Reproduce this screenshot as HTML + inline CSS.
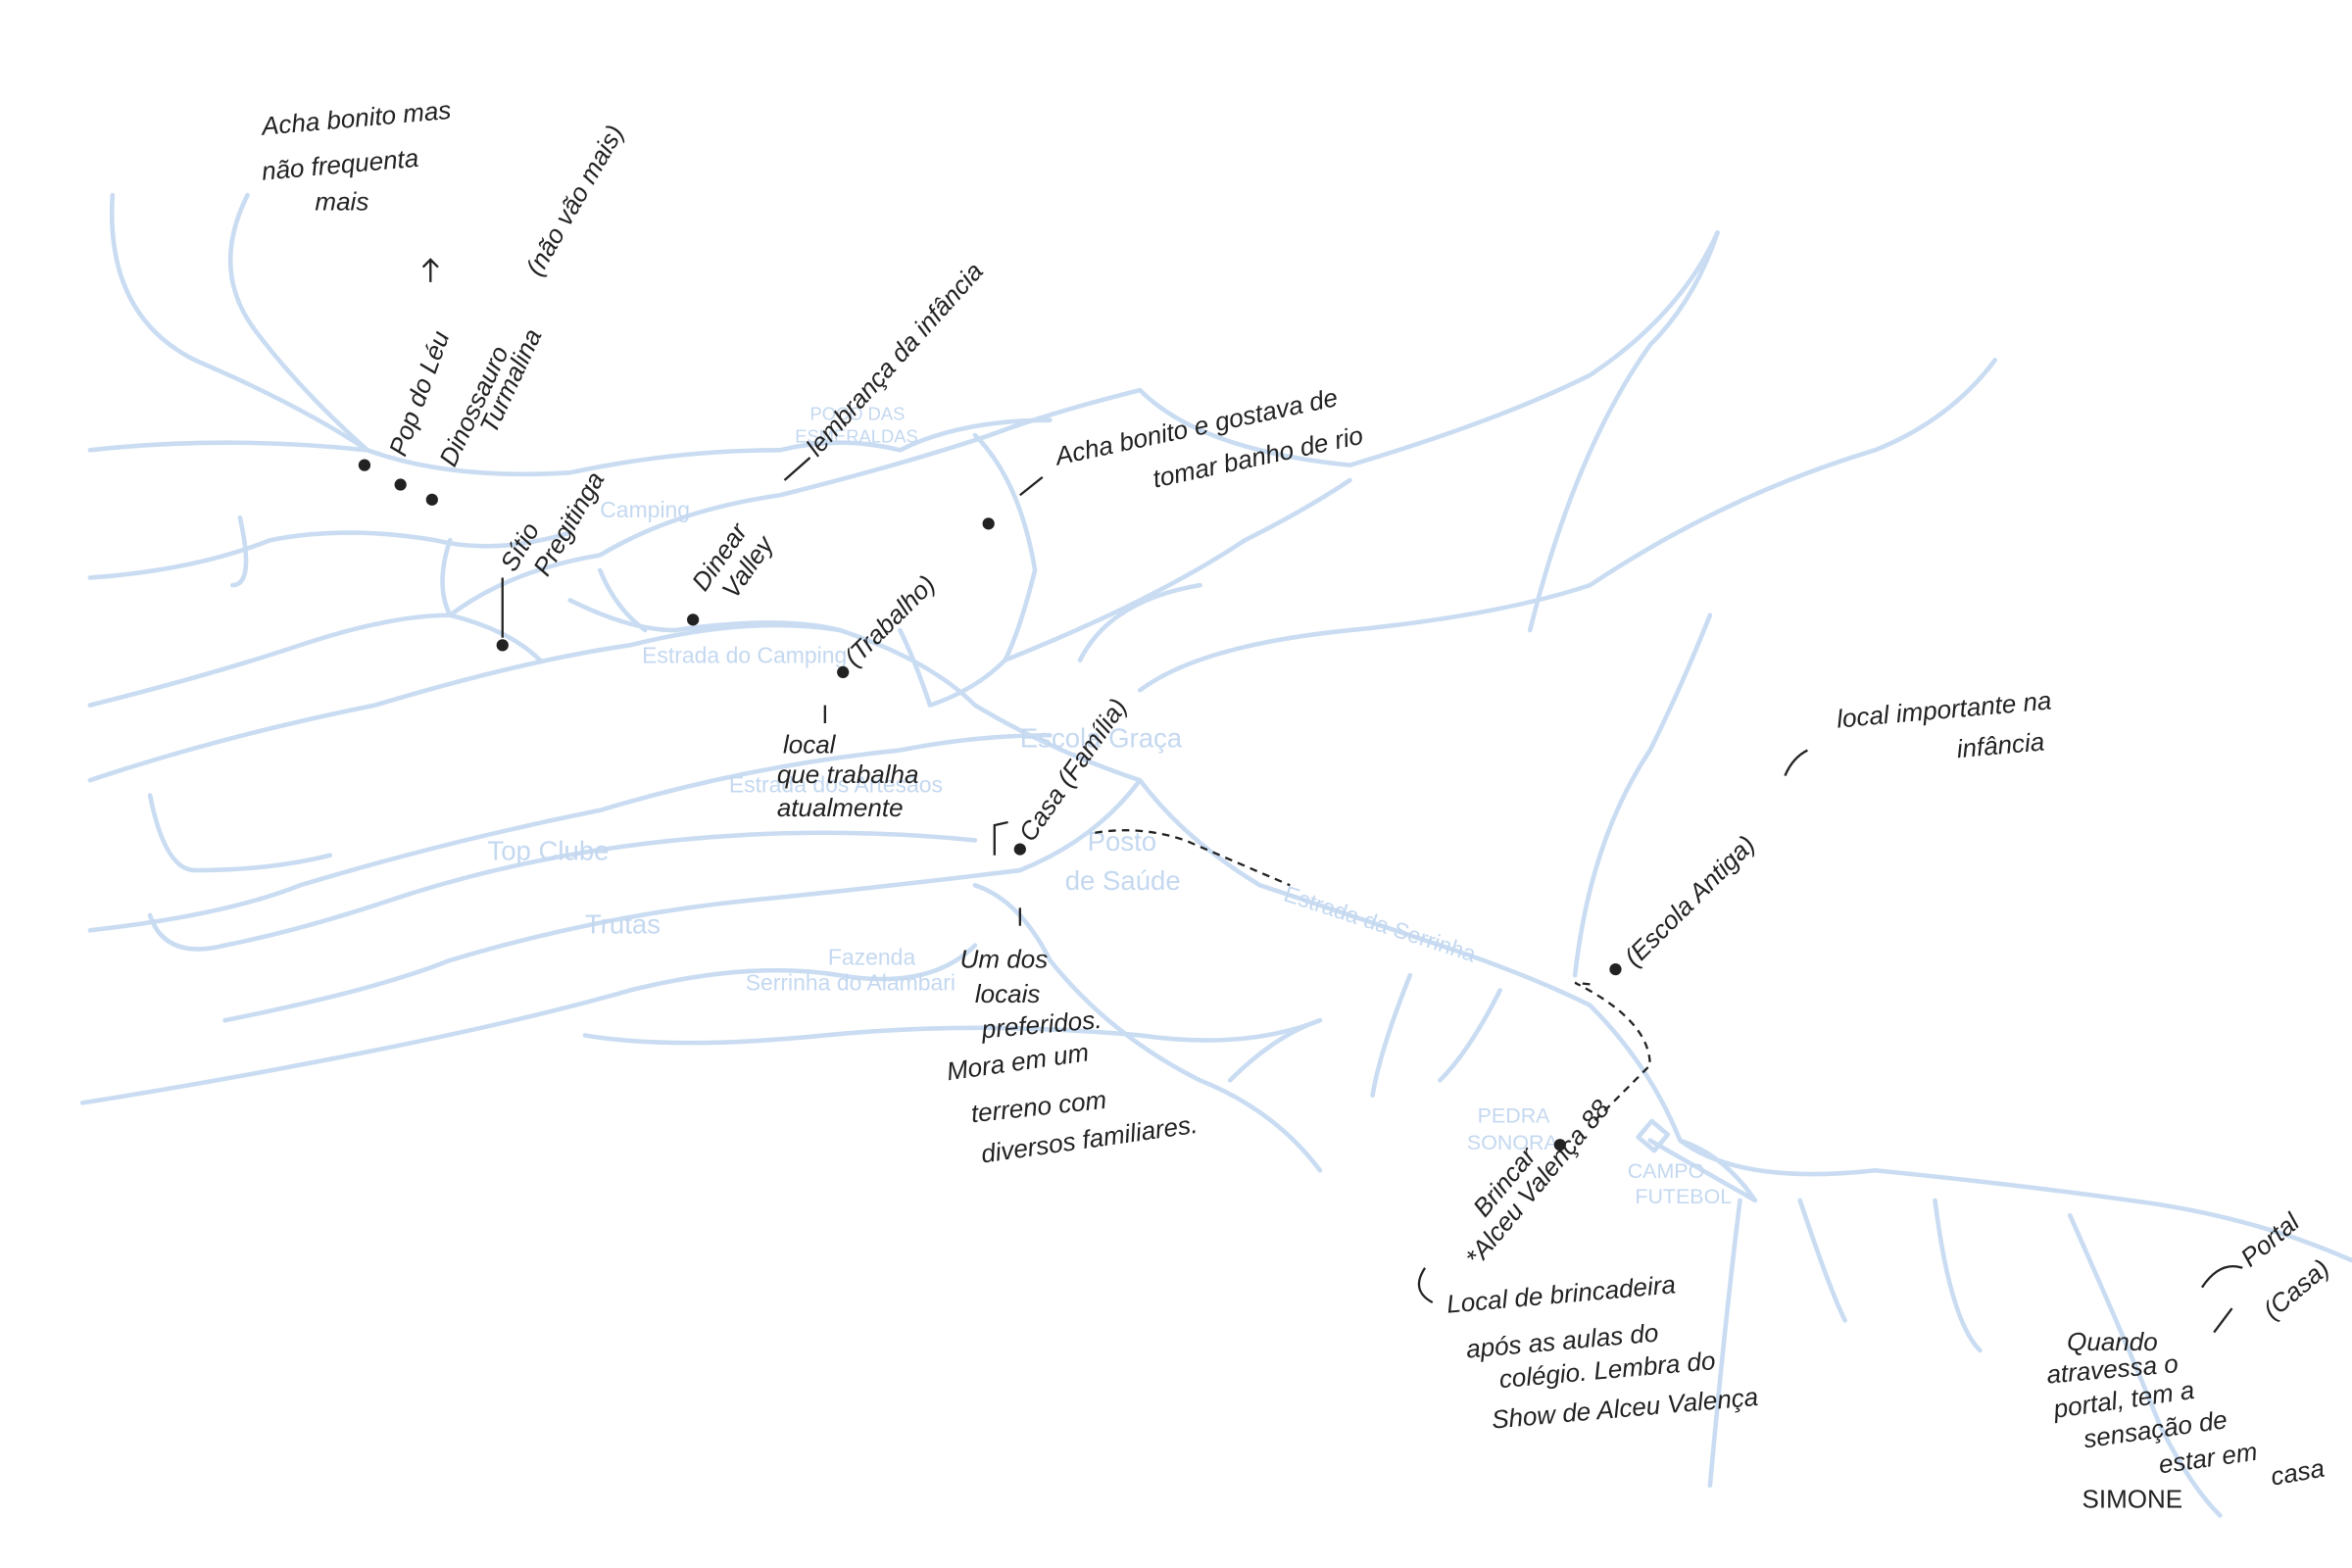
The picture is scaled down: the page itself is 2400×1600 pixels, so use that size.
<!DOCTYPE html>
<html><head><meta charset="utf-8"><style>
html,body{margin:0;padding:0;background:#fff;}
svg{display:block}
.r{fill:none;stroke:#c9dcf2;stroke-width:3;stroke-linecap:round;stroke-linejoin:round}
.h{font-family:"Liberation Sans",sans-serif;font-style:italic;fill:#222;font-size:17px}
.b{font-family:"Liberation Sans",sans-serif;fill:#c4d8f0;font-size:15px}
.k{fill:none;stroke:#222;stroke-width:1.5}
</style></head><body>
<svg width="2400" height="1600" viewBox="0 0 1568 1045" preserveAspectRatio="none">
<g class="r">
<path d="M75,130 Q70,210 130,240 Q200,270 245,300"/>
<path d="M165,130 Q140,180 170,220 Q200,260 245,300"/>
<path d="M60,300 Q150,290 245,300 Q300,320 380,315 Q450,300 520,300 Q560,290 600,300 Q640,280 700,280"/>
<path d="M60,385 Q130,380 180,360 Q230,350 290,360 Q330,370 380,355"/>
<path d="M160,345 Q170,390 155,390"/>
<path d="M60,470 Q140,450 200,430 Q260,410 300,410 Q340,380 400,370 Q450,340 520,330 Q600,310 660,290 Q700,275 760,260 Q800,300 900,310 Q1000,280 1060,250 Q1120,210 1145,155"/>
<path d="M60,520 Q150,490 250,470 Q350,440 420,430 Q500,410 560,420 Q620,440 650,470 Q700,500 760,520"/>
<path d="M380,400 Q420,420 450,420 Q520,410 560,420"/>
<path d="M300,360 Q290,390 300,410 Q340,420 360,440"/>
<path d="M400,380 Q410,405 430,420"/>
<path d="M60,620 Q150,610 200,590 Q300,560 400,540 Q500,510 600,500 Q650,490 700,490"/>
<path d="M100,530 Q110,580 130,580 Q180,580 220,570"/>
<path d="M100,610 Q110,640 150,630 Q200,620 260,600 Q350,570 450,560 Q550,550 650,560"/>
<path d="M150,680 Q250,660 300,640 Q400,610 500,600 Q600,590 680,580"/>
<path d="M55,735 Q150,720 250,700 Q350,680 420,660 Q500,640 560,650 Q620,660 650,630"/>
<path d="M390,690 Q450,700 550,690 Q650,680 760,690 Q830,700 880,680"/>
<path d="M650,590 Q680,600 700,640 Q740,690 800,720 Q850,740 880,780"/>
<path d="M680,580 Q730,560 760,520 Q790,560 840,590 Q900,610 960,630 Q1020,650 1060,670 Q1100,710 1120,760 Q1160,790 1250,780 Q1350,790 1420,800 Q1500,810 1568,840"/>
<path d="M650,290 Q680,320 690,380 Q680,420 670,440 Q650,460 620,470 Q610,440 600,420"/>
<path d="M670,440 Q720,420 760,400 Q800,380 830,360 Q870,340 900,320"/>
<path d="M760,460 Q800,430 900,420 Q1000,410 1060,390 Q1150,330 1250,300 Q1300,280 1330,240"/>
<path d="M1020,420 Q1050,300 1100,230 Q1130,200 1145,155"/>
<path d="M720,440 Q740,400 800,390"/>
<path d="M1050,650 Q1060,560 1100,500 Q1120,460 1140,410"/>
<path d="M940,650 Q920,700 915,730"/>
<path d="M820,720 Q850,690 880,680"/>
<path d="M1000,660 Q980,700 960,720"/>
<path d="M1160,800 Q1150,880 1140,990"/>
<path d="M1200,800 Q1220,860 1230,880"/>
<path d="M1290,800 Q1300,880 1320,900"/>
<path d="M1380,810 Q1420,900 1440,950 Q1460,990 1480,1010"/>
<path d="M1100,760 L1170,800"/>
<path d="M1120,760 Q1150,770 1170,800"/>
<rect x="1095" y="750" width="14" height="14" transform="rotate(40 1102 757)"/>
</g>
<g class="b">
<text x="540" y="280" font-size="12">POÇO DAS</text>
<text x="530" y="295" font-size="12">ESMERALDAS</text>
<text x="400" y="345">Camping</text>
<text x="428" y="442">Estrada do Camping</text>
<text x="680" y="498" font-size="18">Escola Graça</text>
<text x="486" y="528">Estrada dos Artesãos</text>
<text x="325" y="573" font-size="18">Top Clube</text>
<text x="390" y="622" font-size="18">Trutas</text>
<text x="725" y="567" font-size="18">Posto</text>
<text x="710" y="593" font-size="18">de Saúde</text>
<text x="552" y="643">Fazenda</text>
<text x="497" y="660">Serrinha do Alambari</text>
<text x="855" y="600" transform="rotate(18 855 600)">Estrada da Serrinha</text>
<text x="985" y="748" font-size="14">PEDRA</text>
<text x="978" y="766" font-size="14">SONORA</text>
<text x="1085" y="785" font-size="14">CAMPO</text>
<text x="1090" y="802" font-size="14">FUTEBOL</text>
</g>
<g fill="#222">
<circle cx="243" cy="310" r="4"/><circle cx="267" cy="323" r="4"/><circle cx="288" cy="333" r="4"/>
<circle cx="335" cy="430" r="4"/><circle cx="462" cy="413" r="4"/><circle cx="659" cy="349" r="4"/>
<circle cx="562" cy="448" r="4"/><circle cx="680" cy="566" r="4"/><circle cx="1077" cy="646" r="4"/><circle cx="1040" cy="763" r="4"/>
</g>
<g class="k">
<path d="M335,425 L335,385"/><path d="M680,330 L695,318"/><path d="M523,320 L540,305"/>
<path d="M730,555 Q760,550 790,560 L860,590 M1060,656 L1050,655 Q1100,680 1100,710 L1060,750" stroke-dasharray="5,4"/>
<path d="M287,188 L287,173 M282,178 L287,173 L292,178"/>
<path d="M550,470 L550,482"/><path d="M680,605 L680,617"/>
<path d="M1190,517 Q1195,505 1205,500"/>
<path d="M950,845 Q940,860 955,868"/>
<path d="M1468,858 Q1480,840 1495,845"/>
<path d="M1488,872 L1476,888"/>
<path d="M663,570 L663,550 L672,548"/>
</g>
<g class="h">
<text x="175" y="90" transform="rotate(-5 175 90)">Acha bonito mas</text>
<text x="175" y="120" transform="rotate(-5 175 120)">não frequenta</text>
<text x="210" y="140">mais</text>
<text x="270" y="305" transform="rotate(-70 270 305)">Pop do Léu</text>
<text x="303" y="312" transform="rotate(-65 303 312)">Dinossauro</text>
<text x="330" y="290" transform="rotate(-65 330 290)">Turmalina</text>
<text x="360" y="185" transform="rotate(-60 360 185)">(não vão mais)</text>
<text x="343" y="382" transform="rotate(-60 343 382)">Sítio</text>
<text x="365" y="385" transform="rotate(-60 365 385)">Pregitinga</text>
<text x="545" y="305" transform="rotate(-48 545 305)">lembrança da infância</text>
<text x="470" y="395" transform="rotate(-55 470 395)">Dinear</text>
<text x="490" y="400" transform="rotate(-55 490 400)">Valley</text>
<text x="705" y="310" transform="rotate(-12 705 310)">Acha bonito e gostava de</text>
<text x="770" y="325" transform="rotate(-12 770 325)">tomar banho de rio</text>
<text x="570" y="445" transform="rotate(-45 570 445)">(Trabalho)</text>
<text x="522" y="502">local</text>
<text x="518" y="522">que trabalha</text>
<text x="518" y="544">atualmente</text>
<text x="688" y="562" transform="rotate(-55 688 562)">Casa (Família)</text>
<text x="640" y="645">Um dos</text>
<text x="650" y="668">locais</text>
<text x="655" y="692" transform="rotate(-5 655 692)">preferidos.</text>
<text x="632" y="720" transform="rotate(-8 632 720)">Mora em um</text>
<text x="648" y="748" transform="rotate(-6 648 748)">terreno com</text>
<text x="655" y="775" transform="rotate(-8 655 775)">diversos familiares.</text>
<text x="1090" y="645" transform="rotate(-45 1090 645)">(Escola Antiga)</text>
<text x="1225" y="485" transform="rotate(-5 1225 485)">local importante na</text>
<text x="1305" y="505" transform="rotate(-5 1305 505)">infância</text>
<text x="990" y="812" transform="rotate(-50 990 812)">Brincar</text>
<text x="985" y="845" transform="rotate(-50 985 845)">*Alceu Valença 88</text>
<text x="965" y="875" transform="rotate(-5 965 875)">Local de brincadeira</text>
<text x="978" y="905" transform="rotate(-5 978 905)">após as aulas do</text>
<text x="1000" y="925" transform="rotate(-5 1000 925)">colégio. Lembra do</text>
<text x="995" y="952" transform="rotate(-5 995 952)">Show de Alceu Valença</text>
<text x="1500" y="845" transform="rotate(-40 1500 845)">Portal</text>
<text x="1515" y="880" transform="rotate(-40 1515 880)">(Casa)</text>
<text x="1378" y="900">Quando</text>
<text x="1365" y="922" transform="rotate(-5 1365 922)">atravessa o</text>
<text x="1370" y="945" transform="rotate(-8 1370 945)">portal, tem a</text>
<text x="1390" y="965" transform="rotate(-8 1390 965)">sensação de</text>
<text x="1440" y="982" transform="rotate(-8 1440 982)">estar em</text>
<text x="1515" y="990" transform="rotate(-10 1515 990)">casa</text>
<text x="1388" y="1005" font-style="normal">SIMONE</text>
</g>
</svg>
</body></html>
